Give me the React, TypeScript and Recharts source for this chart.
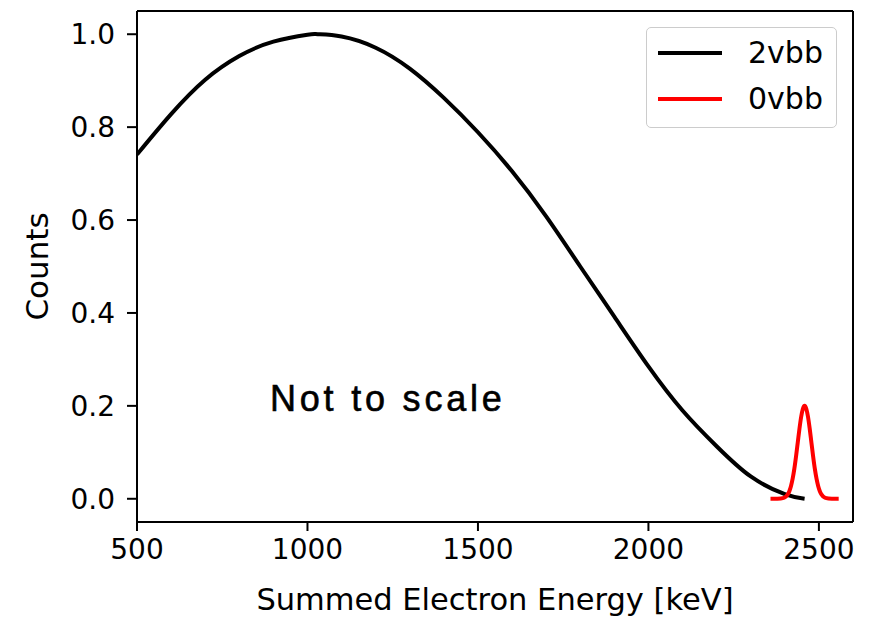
import React from 'react';
import { LineChart, Line, XAxis, YAxis, ReferenceLine, ReferenceDot } from 'recharts';

const energy2v = [500, 600, 700, 800, 900, 1000, 1030, 1100, 1200, 1300, 1400, 1500, 1600, 1700, 1800, 1900, 2000, 2100, 2200, 2300, 2400, 2458];
const counts2v = [0.741, 0.828, 0.902, 0.953, 0.984, 0.999, 1.0, 0.995, 0.971, 0.926, 0.863, 0.789, 0.705, 0.608, 0.5, 0.392, 0.285, 0.19, 0.113, 0.048, 0.01, 0.0];

const energy0v = [2358, 2368, 2378, 2388, 2398, 2408, 2413, 2418, 2423, 2428, 2433, 2438, 2443, 2448, 2453, 2458, 2463, 2468, 2473, 2478, 2483, 2488, 2493, 2498, 2503, 2508, 2518, 2528, 2538, 2548, 2558];
const counts0v = [0, 0, 0.0001, 0.0005, 0.0022, 0.0088, 0.0159, 0.0271, 0.0433, 0.0649, 0.0916, 0.1213, 0.151, 0.1765, 0.1938, 0.2, 0.1938, 0.1765, 0.151, 0.1213, 0.0916, 0.0649, 0.0433, 0.0271, 0.0159, 0.0088, 0.0022, 0.0005, 0.0001, 0, 0];

const xTicks = [500, 1000, 1500, 2000, 2500];
const yTicks = [0, 0.2, 0.4, 0.6, 0.8, 1.0];
const xDomain = [500, 2600];
const yDomain = [-0.05, 1.05];
const annotation = { x: 890, y: 0.19, text: 'Not to scale' };
const seriesNames = ['2vbb', '0vbb'];
const seriesColors = ['#000000', '#ff0000'];

const data2v = energy2v.map((x, i) => ({ x, y: counts2v[i] }));
const data0v = energy0v.map((x, i) => ({ x, y: counts0v[i] }));

const FONT = '"DejaVu Sans", sans-serif';

function LegendBox() {
  return (
    <div
      style={{
        position: 'absolute',
        left: 646,
        top: 27,
        width: 191,
        height: 101,
        border: '1.5px solid #cccccc',
        borderRadius: 5,
        background: '#fff',
        boxSizing: 'border-box',
        fontFamily: FONT,
      }}
    >
      {seriesNames.map((n, i) => (
        <div key={n} style={{ position: 'absolute', left: 0, top: 7 + i * 46, height: 36, display: 'flex', alignItems: 'center' }}>
          <div style={{ width: 64, height: 4, background: seriesColors[i], marginLeft: 11 }} />
          <span style={{ marginLeft: 26, fontSize: 30, color: '#000', lineHeight: '36px' }}>{n}</span>
        </div>
      ))}
    </div>
  );
}

export default function App() {
  return (
    <div style={{ position: 'absolute', left: 0, top: 0, width: 869, height: 618, background: '#fff' }}>
      <LineChart width={869} height={618} margin={{ top: 11, right: 16, bottom: 0, left: 0 }}>
        <XAxis
          dataKey="x"
          type="number"
          domain={xDomain}
          ticks={xTicks}
          allowDataOverflow
          height={96}
          tickSize={9}
          tickMargin={8}
          axisLine={{ stroke: '#000', strokeWidth: 2 }}
          tickLine={{ stroke: '#000', strokeWidth: 2 }}
          tick={{ fill: '#000', fontSize: 28, fontFamily: FONT }}
          label={{
            content: (lp: any) => {
              const vb = lp.viewBox;
              return (
                <text x={vb.x + vb.width / 2} y={vb.y + 77} textAnchor="middle" dominantBaseline="central" fill="#000" fontSize={30.5} fontFamily={FONT}>
                  Summed Electron Energy [keV]
                </text>
              );
            },
          }}
        />
        <YAxis
          type="number"
          domain={yDomain}
          ticks={yTicks}
          allowDataOverflow
          width={137}
          tickSize={10}
          tickMargin={12}
          axisLine={{ stroke: '#000', strokeWidth: 2 }}
          tickLine={{ stroke: '#000', strokeWidth: 2 }}
          tickFormatter={(v: number) => v.toFixed(1)}
          tick={{ fill: '#000', fontSize: 28, fontFamily: FONT }}
          label={{
            content: (lp: any) => {
              const vb = lp.viewBox;
              const cx = vb.x + 37;
              const cy = vb.y + vb.height / 2;
              return (
                <text x={cx} y={cy} textAnchor="middle" dominantBaseline="central" transform={`rotate(-90, ${cx}, ${cy})`} fill="#000" fontSize={31} fontFamily={FONT}>
                  Counts
                </text>
              );
            },
          }}
        />
        <ReferenceLine y={yDomain[1]} stroke="#000" strokeWidth={2} ifOverflow="visible" />
        <ReferenceLine x={xDomain[1]} stroke="#000" strokeWidth={2} ifOverflow="visible" />
        <Line
          data={data2v}
          dataKey="y"
          name={seriesNames[0]}
          type="natural"
          stroke={seriesColors[0]}
          strokeWidth={4}
          dot={false}
          activeDot={false}
          isAnimationActive={false}
        />
        <Line
          data={data0v}
          dataKey="y"
          name={seriesNames[1]}
          type="monotone"
          stroke={seriesColors[1]}
          strokeWidth={4}
          dot={false}
          activeDot={false}
          isAnimationActive={false}
        />
        <ReferenceDot
          x={annotation.x}
          y={annotation.y}
          r={0}
          ifOverflow="visible"
          shape={(p: any) => (
            <text x={p.cx} y={p.cy} fill="#000" stroke="#000" strokeWidth={0.6} fontSize={36} letterSpacing={3.8} fontFamily='"Liberation Sans", Arial, sans-serif'>
              {annotation.text}
            </text>
          )}
        />
      </LineChart>
      <LegendBox />
    </div>
  );
}
